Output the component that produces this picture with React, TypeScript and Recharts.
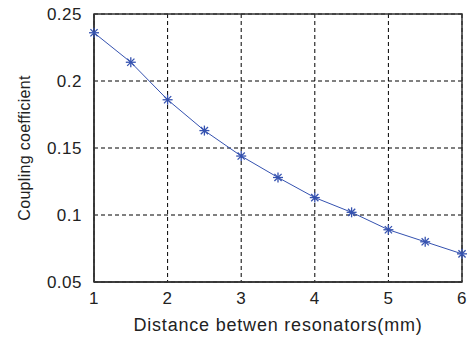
import { LineChart, Line, XAxis, YAxis, CartesianGrid, ReferenceArea } from "recharts";

const distance = [1, 1.5, 2, 2.5, 3, 3.5, 4, 4.5, 5, 5.5, 6];
const coupling = [0.236, 0.214, 0.186, 0.163, 0.144, 0.128, 0.113, 0.102, 0.089, 0.08, 0.071];
const xTicks = [1, 2, 3, 4, 5, 6];
const yTicks = [0.05, 0.1, 0.15, 0.2, 0.25];

const data = distance.map((d, i) => ({ d, k: coupling[i] }));

const lineColor = "#3552b0";
const font = "Arial, 'Liberation Sans', sans-serif";

const Star = (props: { cx?: number; cy?: number; index?: number }) => {
  const { cx, cy } = props;
  if (cx == null || cy == null) return null;
  const r = 5;
  const d = r * 0.72;
  return (
    <g stroke={lineColor} strokeWidth={1.3}>
      <line x1={cx - r} y1={cy} x2={cx + r} y2={cy} />
      <line x1={cx} y1={cy - r} x2={cx} y2={cy + r} />
      <line x1={cx - d} y1={cy - d} x2={cx + d} y2={cy + d} />
      <line x1={cx - d} y1={cy + d} x2={cx + d} y2={cy - d} />
    </g>
  );
};

export default function App() {
  return (
    <div style={{ position: "absolute", left: 0, top: 0, width: 467, height: 339, background: "#fff" }}>
      <LineChart
        width={467}
        height={339}
        data={data}
        margin={{ top: 14, right: 5, bottom: 0, left: 0 }}
      >
        <CartesianGrid stroke="#000" strokeDasharray="4 3" strokeWidth={1} />
        <XAxis
          dataKey="d"
          type="number"
          domain={[1, 6]}
          ticks={xTicks}
          height={57}
          tickLine={false}
          axisLine={{ stroke: "#333", strokeWidth: 1.5 }}
          tick={{ fill: "#222", fontSize: 17, fontFamily: font, letterSpacing: 0.5 }}
          tickMargin={4}
          label={{
            value: "Distance betwen resonators(mm)",
            position: "insideBottom",
            offset: 8,
            fill: "#222",
            fontSize: 18,
            fontFamily: font,
            letterSpacing: 0.8,
          }}
        />
        <YAxis
          type="number"
          domain={[0.05, 0.25]}
          ticks={yTicks}
          width={94}
          tickLine={false}
          axisLine={{ stroke: "#333", strokeWidth: 1.5 }}
          tick={{ fill: "#222", fontSize: 17, fontFamily: font, letterSpacing: 0.5 }}
          tickMargin={6}
          label={{
            value: "Coupling coefficient",
            angle: -90,
            position: "insideLeft",
            offset: 24,
            style: { textAnchor: "middle" },
            fill: "#222",
            fontSize: 16,
            fontFamily: font,
            letterSpacing: 0.3,
          }}
        />
        <ReferenceArea
          x1={1}
          x2={6}
          y1={0.05}
          y2={0.25}
          fill="none"
          stroke="#333"
          strokeWidth={1.5}
          ifOverflow="visible"
        />
        <Line
          dataKey="k"
          stroke={lineColor}
          strokeWidth={1}
          dot={<Star />}
          activeDot={false}
          isAnimationActive={false}
        />
      </LineChart>
    </div>
  );
}
